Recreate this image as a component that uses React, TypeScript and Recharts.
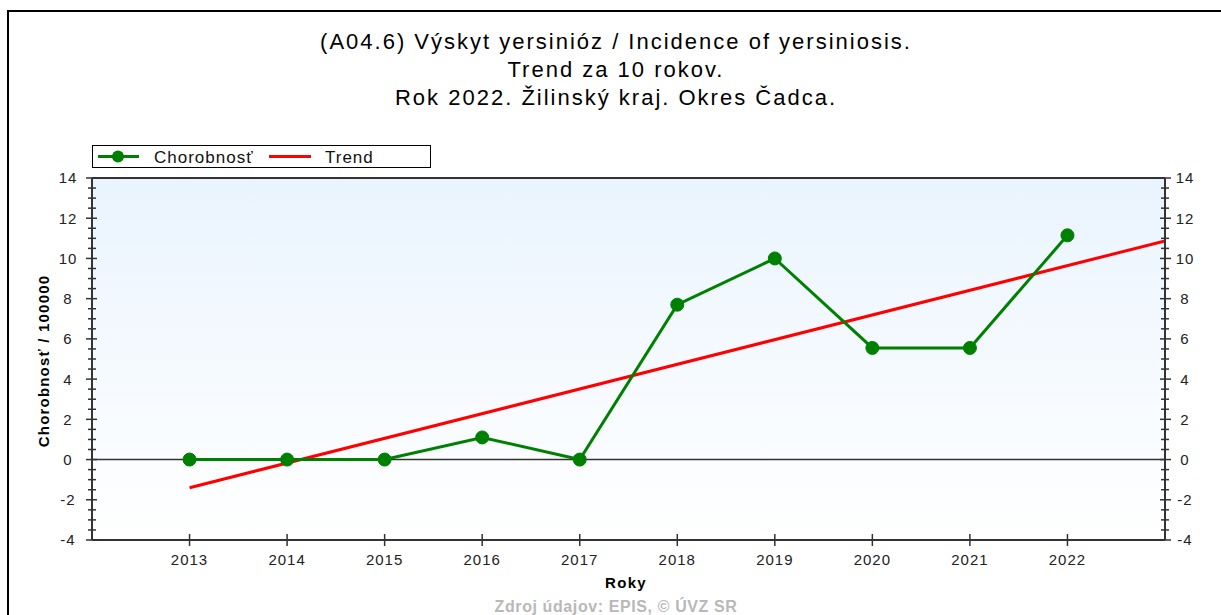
import React from "react";
import {
  ComposedChart, Line, XAxis, YAxis, CartesianGrid, ReferenceLine, Label,
} from "recharts";

const years = [2013, 2014, 2015, 2016, 2017, 2018, 2019, 2020, 2021, 2022];
const incidence = [0, 0, 0, 1.1, 0, 7.7, 10.0, 5.55, 5.55, 11.15];
const trendYears = [2013, 2023];
const trendValues = [-1.4, 10.87];

const yMajorTicks = [-4, -2, 0, 2, 4, 6, 8, 10, 12, 14];
const yAllTicks = [
  -4, -3.5, -3, -2.5, -2, -1.5, -1, -0.5, 0, 0.5, 1, 1.5, 2, 2.5, 3, 3.5, 4, 4.5,
  5, 5.5, 6, 6.5, 7, 7.5, 8, 8.5, 9, 9.5, 10, 10.5, 11, 11.5, 12, 12.5, 13, 13.5, 14,
];

const incidenceData = years.map((year, i) => ({ year, value: incidence[i] }));
const trendData = trendYears.map((year, i) => ({ year, trend: trendValues[i] }));

const FONT = "'Liberation Sans', Arial, sans-serif";
const AXIS = "#333";
const GREEN = "#008000";
const RED = "#ff0000";

function LeftTick(props: any) {
  const { x, y, payload } = props;
  const major = yMajorTicks.includes(payload.value);
  return (
    <g>
      <line x1={x - (major ? 6 : 4)} x2={x + (major ? 5 : 4)} y1={y} y2={y} stroke={AXIS} strokeWidth={1.5} />
      {major && (
        <text x={68} y={y} dy="0.36em" textAnchor="middle" fontSize={15} letterSpacing={1} fontFamily={FONT} fill="#222">
          {payload.value}
        </text>
      )}
    </g>
  );
}

function RightTick(props: any) {
  const { x, y, payload } = props;
  const major = yMajorTicks.includes(payload.value);
  return (
    <g>
      <line x1={x - (major ? 5 : 4)} x2={x + (major ? 6 : 4)} y1={y} y2={y} stroke={AXIS} strokeWidth={1.5} />
      {major && (
        <text x={x + 20} y={y} dy="0.36em" textAnchor="middle" fontSize={15} letterSpacing={1} fontFamily={FONT} fill="#222">
          {payload.value}
        </text>
      )}
    </g>
  );
}

function BottomTick(props: any) {
  const { x, y, payload } = props;
  return (
    <g>
      <line x1={x} x2={x} y1={y - 6} y2={y + 6} stroke={AXIS} strokeWidth={1.5} />
      <text x={x} y={y + 20} dy="0.36em" textAnchor="middle" fontSize={15} letterSpacing={1} fontFamily={FONT} fill="#222">
        {payload.value}
      </text>
    </g>
  );
}

function TopTick(props: any) {
  const { x, y } = props;
  return <line x1={x} x2={x} y1={y} y2={y + 6} stroke={AXIS} strokeWidth={1.5} />;
}

function LegendBox() {
  return (
    <div
      style={{
        position: "absolute", left: 92, top: 145, width: 337, height: 21,
        border: "1.5px solid #000", background: "#fff",
      }}
    >
      <svg width={337} height={21} style={{ position: "absolute", left: 0, top: 0 }}>
        <line x1={5} x2={46} y1={10.5} y2={10.5} stroke={GREEN} strokeWidth={3} />
        <circle cx={25} cy={10.5} r={6} fill={GREEN} />
        <text x={61} y={10.5} dy="0.36em" fontSize={17} letterSpacing={1} fontFamily={FONT} fill="#111">Chorobnosť</text>
        <line x1={176} x2={218} y1={10.5} y2={10.5} stroke={RED} strokeWidth={3} />
        <text x={232} y={10.5} dy="0.36em" fontSize={17} letterSpacing={1} fontFamily={FONT} fill="#111">Trend</text>
      </svg>
    </div>
  );
}

export default function App() {
  return (
    <div style={{ position: "absolute", left: 0, top: 0, width: 1221, height: 615, overflow: "hidden", background: "#fff" }}>
      <div
        style={{
          position: "absolute", left: 7, top: 10, width: 1300, height: 700,
          borderLeft: "2px solid #000", borderTop: "2px solid #000",
        }}
      />
      <div
        style={{
          position: "absolute", left: 0, top: 28, width: 1232, textAlign: "center",
          fontFamily: FONT, fontSize: 22, letterSpacing: 2, lineHeight: "28px", color: "#000",
        }}
      >
        <div>(A04.6) Výskyt yersinióz / Incidence of yersiniosis.</div>
        <div>Trend za 10 rokov.</div>
        <div>Rok 2022. Žilinský kraj. Okres Čadca.</div>
      </div>
      <ComposedChart
        width={1221}
        height={615}
        margin={{ top: 168, right: 0, bottom: 45, left: 0 }}
        style={{ position: "absolute", left: 0, top: 0 }}
      >
        <defs>
          <linearGradient id="plotBg" x1="0" y1="0" x2="0" y2="1">
            <stop offset="0%" stopColor="#eaf4fe" />
            <stop offset="100%" stopColor="#ffffff" />
          </linearGradient>
        </defs>
        <CartesianGrid horizontal={false} vertical={false} fill="url(#plotBg)" />
        <XAxis
          xAxisId="bottom"
          dataKey="year"
          type="number"
          domain={[2012, 2023]}
          ticks={years}
          height={30}
          tickSize={0}
          tickMargin={0}
          tickLine={false}
          tick={<BottomTick />}
          axisLine={{ stroke: AXIS, strokeWidth: 2 }}
          interval={0}
          allowDataOverflow
        >
          <Label
            content={() => (
              <text x={626} y={583} dy="0.36em" textAnchor="middle" fontSize={15} letterSpacing={1.3} fontWeight="bold" fontFamily={FONT} fill="#000">
                Roky
              </text>
            )}
          />
        </XAxis>
        <XAxis
          xAxisId="top"
          orientation="top"
          type="number"
          domain={[2012, 2023]}
          ticks={years}
          height={10}
          tickSize={0}
          tickMargin={0}
          tickLine={false}
          tick={<TopTick />}
          axisLine={{ stroke: AXIS, strokeWidth: 2 }}
          interval={0}
          allowDataOverflow
        />
        <YAxis
          yAxisId="left"
          type="number"
          domain={[-4, 14]}
          ticks={yAllTicks}
          width={92}
          tickSize={0}
          tickMargin={0}
          tickLine={false}
          tick={<LeftTick />}
          axisLine={{ stroke: AXIS, strokeWidth: 2 }}
          interval={0}
          allowDataOverflow
        >
          <Label
            content={() => (
              <text
                x={44}
                y={361}
                transform="rotate(-90 44 361)"
                dy="0.36em"
                textAnchor="middle"
                fontSize={15}
                letterSpacing={1.2}
                fontWeight="bold"
                fontFamily={FONT}
                fill="#000"
              >
                Chorobnosť / 100000
              </text>
            )}
          />
        </YAxis>
        <YAxis
          yAxisId="right"
          orientation="right"
          type="number"
          domain={[-4, 14]}
          ticks={yAllTicks}
          width={56}
          tickSize={0}
          tickMargin={0}
          tickLine={false}
          tick={<RightTick />}
          axisLine={{ stroke: AXIS, strokeWidth: 2 }}
          interval={0}
          allowDataOverflow
        />
        <ReferenceLine xAxisId="bottom" yAxisId="left" y={0} stroke={AXIS} strokeWidth={1.5} />
        <Line
          xAxisId="bottom"
          yAxisId="left"
          data={trendData}
          dataKey="trend"
          type="linear"
          stroke={RED}
          strokeWidth={3}
          dot={false}
          isAnimationActive={false}
        />
        <Line
          xAxisId="bottom"
          yAxisId="left"
          data={incidenceData}
          dataKey="value"
          type="linear"
          stroke={GREEN}
          strokeWidth={3}
          dot={{ r: 6.5, fill: GREEN, stroke: GREEN, strokeWidth: 1 }}
          isAnimationActive={false}
        />
      </ComposedChart>
      <LegendBox />
      <div
        style={{
          position: "absolute", left: 0, top: 597, width: 1232, textAlign: "center",
          fontFamily: FONT, fontSize: 16, letterSpacing: 0.6, fontWeight: "bold", color: "#b8b8b8", lineHeight: "20px",
        }}
      >
        Zdroj údajov: EPIS, © ÚVZ SR
      </div>
    </div>
  );
}
